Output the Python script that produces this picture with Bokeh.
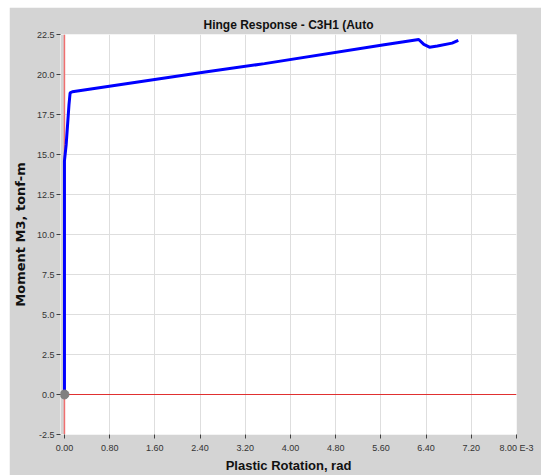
from bokeh.plotting import figure
from bokeh.models import (Range1d, FixedTicker, NumeralTickFormatter, BoxAnnotation,
                          Span)
from bokeh.embed import file_html
from bokeh.resources import INLINE

# Hinge response curve: plastic rotation (E-3 rad) vs moment M3 (tonf-m)
rotation = [0.0, 0.0, 0.03, 0.08, 0.10, 0.14, 2.49, 3.54, 5.63, 6.27, 6.36, 6.46,
            6.60, 6.86, 6.97]
moment = [0.0, 14.6, 15.6, 18.1, 18.85, 18.92, 20.15, 20.68, 21.85, 22.19, 21.88,
          21.71, 21.78, 21.96, 22.13]

x_ticks = [0.0, 0.8, 1.6, 2.4, 3.2, 4.0, 4.8, 5.6, 6.4, 7.2, 8.0]
y_ticks = [-2.5, 0.0, 2.5, 5.0, 7.5, 10.0, 12.5, 15.0, 17.5, 20.0, 22.5]

GRAY = "#d4d4d4"
FONT = "Liberation Sans"

p = figure(width=532, height=468, output_backend="svg", toolbar_location=None,
           x_range=Range1d(-0.07, 8.0), y_range=Range1d(-2.5, 22.5),
           min_border_left=44, min_border_right=25, min_border_top=27,
           min_border_bottom=41, background_fill_color="white",
           border_fill_color=GRAY, outline_line_color=None,
           title="Hinge Response - C3H1 (Auto")
p.margin = (7, 0, 0, 9)

p.title.align = "center"
p.title.text_font = FONT
p.title.text_font_size = "12px"
p.title.text_font_style = "bold"
p.title.text_color = "#111111"
p.title.standoff = 5

p.xaxis.ticker = FixedTicker(ticks=x_ticks)
p.yaxis.ticker = FixedTicker(ticks=y_ticks)
p.xaxis.formatter = NumeralTickFormatter(format="0.00")
p.yaxis.formatter = NumeralTickFormatter(format="0.0")
# the last tick label carries the exponent of the rotation scale
p.xaxis.major_label_overrides = {8: "8.00 E-3"}
p.xaxis.axis_label = "Plastic Rotation, rad"
p.yaxis.axis_label = "Moment M3, tonf-m"

for ax in p.axis:
    ax.axis_line_color = None
    ax.major_tick_line_color = "#404040"
    ax.major_tick_in = 0
    ax.major_tick_out = 4
    ax.minor_tick_line_color = None
    ax.major_label_text_font = FONT
    ax.major_label_text_font_size = "9px"
    ax.major_label_text_color = "#333333"
    ax.axis_label_text_font_style = "bold"
    ax.axis_label_text_color = "#111111"
    ax.axis_label_text_font_size = "13px"

p.xaxis.major_label_standoff = 4
p.xaxis.axis_label_standoff = 2
p.yaxis.major_label_standoff = 2
p.yaxis.axis_label_standoff = 6
p.xaxis.axis_label_text_font = FONT
p.yaxis.axis_label_text_font = "DejaVu Sans"

p.xgrid.ticker = FixedTicker(ticks=x_ticks)
p.ygrid.ticker = FixedTicker(ticks=y_ticks)
p.grid.grid_line_color = "#dedede"
p.grid.grid_line_width = 1

# zero lines; the strip left of x = 0 is painted like the border
p.add_layout(Span(location=0, dimension="width", line_color="#e03030",
                  line_width=1, level="underlay"))
p.add_layout(BoxAnnotation(right=0, fill_color=GRAY, fill_alpha=1.0,
                           line_color=None, level="underlay"))
p.add_layout(Span(location=0, dimension="height", line_color="#f07070",
                  line_width=1.5, level="underlay"))

p.line(rotation, moment, line_color="#0000ff", line_width=3)
p.scatter(rotation[:1], moment[:1], size=9, color="#808080")

open("out.html", "w").write(file_html(p, INLINE))
